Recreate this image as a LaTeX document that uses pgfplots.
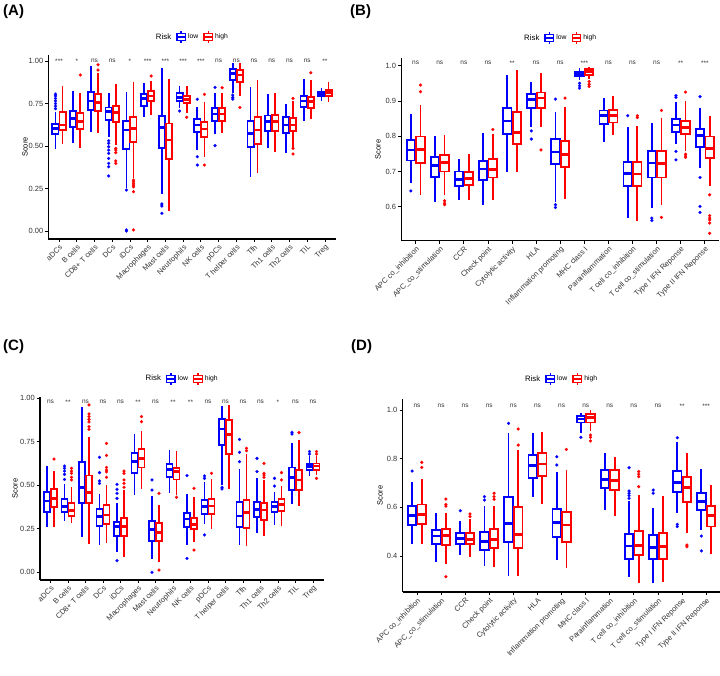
\documentclass[border=0pt]{standalone}
\usepackage{pgfplots}
\pgfplotsset{compat=1.18}
\usepgfplotslibrary{statistics}
\usepackage{fontspec}
\setmainfont{Liberation Sans}
\newcommand\fs[1]{\fontsize{#1}{#1}\selectfont}
\pgfplotsset{
 bxbase/.style={forget plot, line width=1.8pt, mark=*, mark size=1.5pt,
   boxplot/draw direction=y,
   boxplot/box extend=0.35, boxplot/whisker extend=0},
 lowb/.style={bxbase, color=blue, draw=blue,
   boxplot/every box/.style={draw=blue, fill=white, line width=1.8pt},
   boxplot/every whisker/.style={draw=blue, line width=1.8pt},
   boxplot/every median/.style={draw=blue, line width=2.8pt},
   mark options={solid, fill=blue, draw=blue, line width=0.2pt}},
 highb/.style={bxbase, color=red, draw=red,
   boxplot/every box/.style={draw=red, fill=white, line width=1.8pt},
   boxplot/every whisker/.style={draw=red, line width=1.8pt},
   boxplot/every median/.style={draw=red, line width=2.8pt},
   mark options={solid, fill=red, draw=red, line width=0.2pt}},
 panel/.style={scale only axis, clip=false, axis lines=left,
   axis line style={-, line width=1.3pt, black},
   tick align=outside, major tick length=3pt, tick style={line width=0.8pt, black},
   tick label style={font=\fs{7.5}, text=black!80},
   xticklabel style={rotate=45, anchor=north east, inner sep=1.5pt},
   yticklabel style={inner sep=2pt},
   ylabel=Score, ylabel style={anchor=center, font=\fs{7.5}},
   legend columns=3,
   legend style={draw=none, fill=none, anchor=center, font=\fs{6.8},
     /tikz/every even column/.append style={column sep=3pt}},
   enlargelimits=false},
 lowleg/.style={legend image code/.code={
   \draw[blue, line width=1.4pt] (4.25pt,3.5pt)--(4.25pt,5.8pt) (4.25pt,-3.5pt)--(4.25pt,-5.8pt);
   \draw[blue, line width=1.4pt, fill=white] (0pt,-3.5pt) rectangle (8.5pt,3.5pt);
   \draw[blue, line width=1.4pt] (0pt,0pt)--(8.5pt,0pt);}},
 highleg/.style={legend image code/.code={
   \draw[red, line width=1.4pt] (4.25pt,3.5pt)--(4.25pt,5.8pt) (4.25pt,-3.5pt)--(4.25pt,-5.8pt);
   \draw[red, line width=1.4pt, fill=white] (0pt,-3.5pt) rectangle (8.5pt,3.5pt);
   \draw[red, line width=1.4pt] (0pt,0pt)--(8.5pt,0pt);}}
}
% low / high boxes: position, lower whisker, lower quartile, median, upper quartile, upper whisker [, outliers]
\newcommand\bxl[6]{\addplot[lowb, boxplot prepared={draw position=#1-0.2, lower whisker=#2, lower quartile=#3, median=#4, upper quartile=#5, upper whisker=#6}] coordinates {};}
\newcommand\bxh[6]{\addplot[highb, boxplot prepared={draw position=#1+0.2, lower whisker=#2, lower quartile=#3, median=#4, upper quartile=#5, upper whisker=#6}] coordinates {};}
\newcommand\bxlo[7]{\addplot[lowb, boxplot prepared={draw position=#1-0.2, lower whisker=#2, lower quartile=#3, median=#4, upper quartile=#5, upper whisker=#6}] table[row sep=\\,y index=0]{data\\#7};}
\newcommand\bxho[7]{\addplot[highb, boxplot prepared={draw position=#1+0.2, lower whisker=#2, lower quartile=#3, median=#4, upper quartile=#5, upper whisker=#6}] table[row sep=\\,y index=0]{data\\#7};}
\newcommand\sig[3]{\node[font=\fs{6.5}, text=black!80, inner sep=0pt] at (axis cs:#1,#2) {#3};}
\newcommand\riskleg{\addlegendimage{empty legend}\addlegendentry{\fs{7.8}Risk}
  \addlegendimage{lowleg}\addlegendentry{low}
  \addlegendimage{highleg}\addlegendentry{high}}
\begin{document}
\begin{tikzpicture}
\useasboundingbox (0,0) rectangle (720pt,676pt);
% ---------------- (A)
\begin{axis}[panel, at={(48.4pt,437pt)}, anchor=south west, width=287.2pt, height=183.9pt,
  xmin=-0.6, xmax=15.6, ymin=-0.047, ymax=1.035,
  xtick={0,...,15},
  xticklabels={aDCs,B cells,CD8+ T cells,DCs,iDCs,Macrophages,Mast cells,Neutrophils,NK cells,pDCs,T helper cells,Tfh,Th1 cells,Th2 cells,TIL,Treg},
  ytick={0,0.25,0.5,0.75,1}, yticklabels={0.00,0.25,0.50,0.75,1.00},
  ylabel style={at={(axis description cs:-0.081,0.5)}},
  legend style={at={(0.5,1.098)}}]
\riskleg
\bxlo{0}{0.484}{0.571}{0.604}{0.629}{0.70}{0.72\\0.735\\0.75\\0.765\\0.78\\0.795\\0.806\\}
\bxh{0}{0.51}{0.594}{0.624}{0.702}{0.853}
\bxl{1}{0.52}{0.61}{0.663}{0.706}{0.824}
\bxho{1}{0.49}{0.60}{0.643}{0.692}{0.814}{0.918\\}
\bxl{2}{0.58}{0.71}{0.765}{0.816}{0.97}
\bxho{2}{0.575}{0.706}{0.755}{0.804}{0.927}{0.947\\0.978\\}
\bxlo{3}{0.551}{0.653}{0.702}{0.727}{0.81}{0.531\\0.516\\0.496\\0.476\\0.457\\0.427\\0.398\\0.378\\0.324\\}
\bxho{3}{0.506}{0.641}{0.696}{0.737}{0.863}{0.486\\0.476\\0.461\\0.412\\0.398\\}
\bxlo{4}{0.251}{0.484}{0.594}{0.647}{0.816}{0.241\\0.006\\0.0\\}
\bxho{4}{0.31}{0.522}{0.604}{0.673}{0.876}{0.30\\0.29\\0.28\\0.27\\0.26\\0.231\\0.006\\}
\bxl{5}{0.673}{0.737}{0.78}{0.806}{0.869}
\bxho{5}{0.682}{0.765}{0.794}{0.824}{0.882}{0.912\\}
\bxlo{6}{0.216}{0.49}{0.61}{0.678}{0.957}{0.159\\0.147\\0.104\\}
\bxh{6}{0.118}{0.422}{0.535}{0.633}{0.892}
\bxlo{7}{0.722}{0.765}{0.784}{0.81}{0.853}{0.706\\}
\bxho{7}{0.696}{0.751}{0.776}{0.796}{0.855}{0.669\\}
\bxlo{8}{0.476}{0.584}{0.624}{0.661}{0.727}{0.775\\0.437\\0.388\\}
\bxho{8}{0.437}{0.551}{0.60}{0.639}{0.761}{0.804\\0.388\\}
\bxlo{9}{0.569}{0.649}{0.688}{0.725}{0.81}{0.845\\0.502\\}
\bxho{9}{0.578}{0.649}{0.688}{0.722}{0.81}{0.843\\}
\bxlo{10}{0.81}{0.888}{0.927}{0.951}{0.99}{0.80\\0.786\\0.776\\}
\bxho{10}{0.794}{0.875}{0.918}{0.947}{0.99}{0.727\\}
\bxl{11}{0.32}{0.496}{0.575}{0.647}{0.845}
\bxh{11}{0.343}{0.51}{0.594}{0.673}{0.888}
\bxl{12}{0.49}{0.59}{0.643}{0.68}{0.804}
\bxh{12}{0.467}{0.59}{0.643}{0.682}{0.81}
\bxl{13}{0.457}{0.578}{0.624}{0.669}{0.747}
\bxho{13}{0.49}{0.59}{0.624}{0.663}{0.765}{0.78\\0.486\\0.453\\}
\bxl{14}{0.649}{0.731}{0.765}{0.796}{0.892}
\bxho{14}{0.657}{0.722}{0.761}{0.79}{0.888}{0.931\\}
\bxl{15}{0.765}{0.794}{0.81}{0.82}{0.843}
\bxh{15}{0.761}{0.796}{0.814}{0.829}{0.875}
\sig{0}{1.0}{***}\sig{1}{1.0}{*}\sig{2}{1.0}{ns}\sig{3}{1.0}{ns}
\sig{4}{1.0}{*}\sig{5}{1.0}{***}\sig{6}{1.0}{***}\sig{7}{1.0}{***}
\sig{8}{1.0}{***}\sig{9}{1.0}{ns}\sig{10}{1.0}{ns}\sig{11}{1.0}{ns}
\sig{12}{1.0}{ns}\sig{13}{1.0}{ns}\sig{14}{1.0}{ns}\sig{15}{1.0}{**}
\end{axis}
% ---------------- (B)
\begin{axis}[panel, at={(401.2pt,435.3pt)}, anchor=south west, width=318.1pt, height=182.5pt,
  xmin=-0.6, xmax=12.6, ymin=0.504, ymax=1.021,
  xtick={0,...,12},
  xticklabels={APC co\_inhibition,APC\_co\_stimulation,CCR,Check point,Cytolytic activity,HLA,Inflammation promoting,MHC class I,Parainflammation,T cell co\_inhibition,T cell co\_stimulation,Type I IFN Reponse,Type II IFN Reponse},
  ytick={0.6,0.7,0.8,0.9,1.0}, yticklabels={0.6,0.7,0.8,0.9,1.0},
  ylabel style={at={(axis description cs:-0.073,0.5)}},
  legend style={at={(0.5,1.11)}}]
\riskleg
\bxlo{0}{0.667}{0.731}{0.761}{0.79}{0.863}{0.645\\}
\bxho{0}{0.634}{0.725}{0.763}{0.799}{0.887}{0.926\\0.945\\}
\bxl{1}{0.615}{0.684}{0.717}{0.74}{0.801}
\bxho{1}{0.634}{0.70}{0.725}{0.747}{0.804}{0.617\\0.61\\0.606\\}
\bxl{2}{0.62}{0.659}{0.678}{0.70}{0.736}
\bxh{2}{0.618}{0.662}{0.681}{0.698}{0.749}
\bxl{3}{0.606}{0.675}{0.707}{0.73}{0.81}
\bxho{3}{0.618}{0.683}{0.705}{0.735}{0.807}{0.819\\}
\bxl{4}{0.698}{0.807}{0.843}{0.881}{0.972}
\bxh{4}{0.70}{0.778}{0.811}{0.868}{0.988}
\bxlo{5}{0.825}{0.879}{0.905}{0.919}{0.953}{0.815\\0.792\\}
\bxho{5}{0.825}{0.879}{0.908}{0.924}{0.978}{0.761\\}
\bxlo{6}{0.615}{0.722}{0.755}{0.792}{0.868}{0.905\\0.606\\0.598\\}
\bxho{6}{0.623}{0.712}{0.749}{0.787}{0.884}{0.908\\}
\bxlo{7}{0.959}{0.971}{0.976}{0.983}{0.992}{0.95\\0.943\\0.936\\}
\bxho{7}{0.962}{0.974}{0.983}{0.99}{0.997}{0.955\\0.947\\0.941\\}
\bxl{8}{0.783}{0.835}{0.858}{0.873}{0.908}
\bxh{8}{0.802}{0.839}{0.858}{0.875}{0.915}
\bxlo{9}{0.568}{0.66}{0.695}{0.728}{0.825}{0.858\\}
\bxho{9}{0.561}{0.658}{0.693}{0.728}{0.83}{0.853\\0.858\\}
\bxlo{10}{0.598}{0.683}{0.724}{0.757}{0.837}{0.568\\0.561\\}
\bxho{10}{0.606}{0.683}{0.722}{0.757}{0.851}{0.873\\0.57\\}
\bxlo{11}{0.777}{0.813}{0.832}{0.849}{0.896}{0.91\\0.915\\0.757\\0.733\\}
\bxho{11}{0.757}{0.807}{0.825}{0.842}{0.90}{0.925\\0.749\\0.744\\0.74\\}
\bxlo{12}{0.711}{0.769}{0.801}{0.82}{0.879}{0.912\\0.683\\0.601\\0.584\\}
\bxho{12}{0.66}{0.738}{0.766}{0.799}{0.856}{0.634\\0.575\\0.568\\0.563\\0.554\\0.525\\}
\sig{0}{1.007}{ns}\sig{1}{1.007}{ns}\sig{2}{1.007}{ns}\sig{3}{1.007}{ns}
\sig{4}{1.007}{**}\sig{5}{1.007}{ns}\sig{6}{1.007}{ns}\sig{7}{1.007}{***}
\sig{8}{1.007}{ns}\sig{9}{1.007}{ns}\sig{10}{1.007}{ns}\sig{11}{1.007}{**}
\sig{12}{1.007}{***}
\end{axis}
% ---------------- (C)
\begin{axis}[panel, at={(40pt,96pt)}, anchor=south west, width=283.5pt, height=183.4pt,
  xmin=-0.6, xmax=15.6, ymin=-0.044, ymax=1.01,
  xtick={0,...,15},
  xticklabels={aDCs,B cells,CD8+ T cells,DCs,iDCs,Macrophages,Mast cells,Neutrophils,NK cells,pDCs,T helper cells,Tfh,Th1 cells,Th2 cells,TIL,Treg},
  ytick={0,0.25,0.5,0.75,1}, yticklabels={0.00,0.25,0.50,0.75,1.00},
  ylabel style={at={(axis description cs:-0.088,0.5)}},
  legend style={at={(0.5,1.097)}}]
\riskleg
\bxl{0}{0.259}{0.349}{0.41}{0.46}{0.613}
\bxho{0}{0.259}{0.374}{0.425}{0.479}{0.582}{0.651\\}
\bxlo{1}{0.297}{0.349}{0.377}{0.421}{0.506}{0.534\\0.563\\0.582\\0.598\\0.611\\}
\bxho{1}{0.282}{0.324}{0.354}{0.397}{0.492}{0.531\\0.546\\0.569\\0.582\\0.598\\}
\bxl{2}{0.205}{0.397}{0.489}{0.636}{0.948}
\bxho{2}{0.163}{0.397}{0.46}{0.556}{0.78}{0.822\\0.837\\0.864\\0.879\\0.895\\0.91\\0.962\\}
\bxlo{3}{0.157}{0.266}{0.32}{0.364}{0.45}{0.511\\0.525\\0.573\\0.661\\}
\bxho{3}{0.167}{0.276}{0.33}{0.387}{0.502}{0.546\\0.578\\0.588\\0.603\\0.672\\0.741\\}
\bxlo{4}{0.119}{0.211}{0.262}{0.291}{0.397}{0.425\\0.454\\0.477\\0.506\\0.067\\}
\bxho{4}{0.09}{0.211}{0.262}{0.312}{0.473}{0.489\\0.511\\0.531\\0.569\\0.582\\}
\bxl{5}{0.444}{0.573}{0.636}{0.684}{0.795}
\bxho{5}{0.479}{0.603}{0.655}{0.709}{0.812}{0.866\\0.895\\}
\bxlo{6}{0.077}{0.182}{0.247}{0.297}{0.439}{0.473\\0.531\\0.0\\}
\bxho{6}{0.057}{0.18}{0.23}{0.285}{0.387}{0.454\\0.013\\}
\bxl{7}{0.454}{0.55}{0.592}{0.621}{0.703}
\bxho{7}{0.444}{0.534}{0.579}{0.598}{0.699}{0.431\\}
\bxlo{8}{0.157}{0.259}{0.307}{0.339}{0.448}{0.556\\0.08\\}
\bxho{8}{0.176}{0.247}{0.276}{0.314}{0.431}{0.483\\0.128\\}
\bxlo{9}{0.278}{0.335}{0.377}{0.416}{0.521}{0.54\\0.554\\0.215\\}
\bxho{9}{0.247}{0.335}{0.381}{0.421}{0.534}{0.569\\}
\bxlo{10}{0.502}{0.732}{0.824}{0.881}{0.958}{0.489\\0.479\\}
\bxh{10}{0.479}{0.678}{0.793}{0.875}{0.962}
\bxlo{11}{0.157}{0.259}{0.324}{0.406}{0.592}{0.636\\0.69\\0.764\\}
\bxho{11}{0.151}{0.253}{0.345}{0.416}{0.68}{0.699\\0.713\\}
\bxlo{12}{0.224}{0.32}{0.362}{0.406}{0.54}{0.579\\0.655\\}
\bxho{12}{0.211}{0.301}{0.358}{0.397}{0.531}{0.546\\0.559\\0.569\\0.626\\}
\bxlo{13}{0.272}{0.345}{0.377}{0.402}{0.464}{0.496\\0.54\\}
\bxho{13}{0.268}{0.354}{0.391}{0.421}{0.496}{0.531\\0.573\\}
\bxlo{14}{0.391}{0.473}{0.544}{0.602}{0.741}{0.795\\0.805\\}
\bxho{14}{0.383}{0.473}{0.531}{0.588}{0.761}{0.803\\}
\bxlo{15}{0.554}{0.588}{0.607}{0.621}{0.67}{0.68\\0.694\\}
\bxho{15}{0.559}{0.588}{0.611}{0.626}{0.669}{0.68\\0.694\\0.54\\}
\sig{0}{0.98}{ns}\sig{1}{0.98}{**}\sig{2}{0.98}{ns}\sig{3}{0.98}{ns}
\sig{4}{0.98}{ns}\sig{5}{0.98}{**}\sig{6}{0.98}{ns}\sig{7}{0.98}{**}
\sig{8}{0.98}{**}\sig{9}{0.98}{ns}\sig{10}{0.98}{ns}\sig{11}{0.98}{ns}
\sig{12}{0.98}{ns}\sig{13}{0.98}{*}\sig{14}{0.98}{ns}\sig{15}{0.98}{ns}
\end{axis}
% ---------------- (D)
\begin{axis}[panel, at={(402.5pt,84pt)}, anchor=south west, width=317.2pt, height=192.9pt,
  xmin=-0.6, xmax=12.56, ymin=0.252, ymax=1.045,
  xtick={0,...,12},
  xticklabels={APC co\_inhibition,APC\_co\_stimulation,CCR,Check point,Cytolytic activity,HLA,Inflammation promoting,MHC class I,Parainflammation,T cell co\_inhibition,T cell co\_stimulation,Type I IFN Reponse,Type II IFN Reponse},
  ytick={0.4,0.6,0.8,1.0}, yticklabels={0.4,0.6,0.8,1.0},
  ylabel style={at={(axis description cs:-0.071,0.5)}},
  legend style={at={(0.5,1.104)}}]
\riskleg
\bxlo{0}{0.449}{0.527}{0.568}{0.607}{0.705}{0.749\\}
\bxho{0}{0.448}{0.532}{0.571}{0.612}{0.715}{0.764\\0.785\\}
\bxl{1}{0.374}{0.448}{0.482}{0.507}{0.578}
\bxho{1}{0.367}{0.445}{0.484}{0.51}{0.578}{0.605\\0.612\\0.634\\0.315\\}
\bxlo{2}{0.404}{0.448}{0.473}{0.493}{0.545}{0.586\\}
\bxho{2}{0.395}{0.448}{0.468}{0.493}{0.551}{0.562\\0.573\\}
\bxlo{3}{0.36}{0.425}{0.459}{0.50}{0.605}{0.63\\0.644\\}
\bxho{3}{0.356}{0.434}{0.468}{0.51}{0.605}{0.633\\0.644\\0.658\\}
\bxlo{4}{0.319}{0.456}{0.532}{0.644}{0.904}{0.945\\}
\bxho{4}{0.319}{0.432}{0.49}{0.60}{0.836}{0.856\\0.922\\}
\bxl{5}{0.644}{0.719}{0.771}{0.815}{0.904}
\bxh{5}{0.612}{0.729}{0.778}{0.822}{0.911}
\bxlo{6}{0.384}{0.479}{0.537}{0.592}{0.747}{0.774\\0.808\\}
\bxho{6}{0.352}{0.456}{0.527}{0.581}{0.753}{0.838\\}
\bxlo{7}{0.904}{0.949}{0.963}{0.977}{0.989}{0.888\\}
\bxho{7}{0.915}{0.949}{0.968}{0.984}{1.0}{0.897\\0.888\\0.873\\}
\bxl{8}{0.589}{0.681}{0.716}{0.753}{0.825}
\bxh{8}{0.564}{0.671}{0.71}{0.753}{0.805}
\bxlo{9}{0.315}{0.388}{0.441}{0.489}{0.627}{0.637\\0.648\\0.658\\0.667\\0.763\\}
\bxho{9}{0.288}{0.404}{0.442}{0.504}{0.651}{0.685\\0.726\\0.736\\0.747\\}
\bxlo{10}{0.29}{0.386}{0.436}{0.486}{0.596}{0.658\\0.671\\}
\bxh{10}{0.295}{0.386}{0.438}{0.493}{0.647}
\bxlo{11}{0.575}{0.664}{0.701}{0.751}{0.87}{0.886\\0.53\\0.521\\}
\bxho{11}{0.496}{0.623}{0.681}{0.726}{0.822}{0.445\\0.438\\}
\bxlo{12}{0.507}{0.589}{0.623}{0.66}{0.758}{0.482\\0.421\\}
\bxh{12}{0.407}{0.521}{0.568}{0.607}{0.692}
\sig{0}{1.016}{ns}\sig{1}{1.016}{ns}\sig{2}{1.016}{ns}\sig{3}{1.016}{ns}
\sig{4}{1.016}{ns}\sig{5}{1.016}{ns}\sig{6}{1.016}{ns}\sig{7}{1.016}{ns}
\sig{8}{1.016}{ns}\sig{9}{1.016}{ns}\sig{10}{1.016}{ns}\sig{11}{1.016}{**}
\sig{12}{1.016}{***}
\end{axis}
% panel labels
\node[font=\bfseries\fs{15}, anchor=west, inner sep=0pt] at (3pt,664.3pt) {(A)};
\node[font=\bfseries\fs{15}, anchor=west, inner sep=0pt] at (350pt,664.3pt) {(B)};
\node[font=\bfseries\fs{15}, anchor=west, inner sep=0pt] at (3pt,329.3pt) {(C)};
\node[font=\bfseries\fs{15}, anchor=west, inner sep=0pt] at (351pt,329.3pt) {(D)};
\end{tikzpicture}
\end{document}
